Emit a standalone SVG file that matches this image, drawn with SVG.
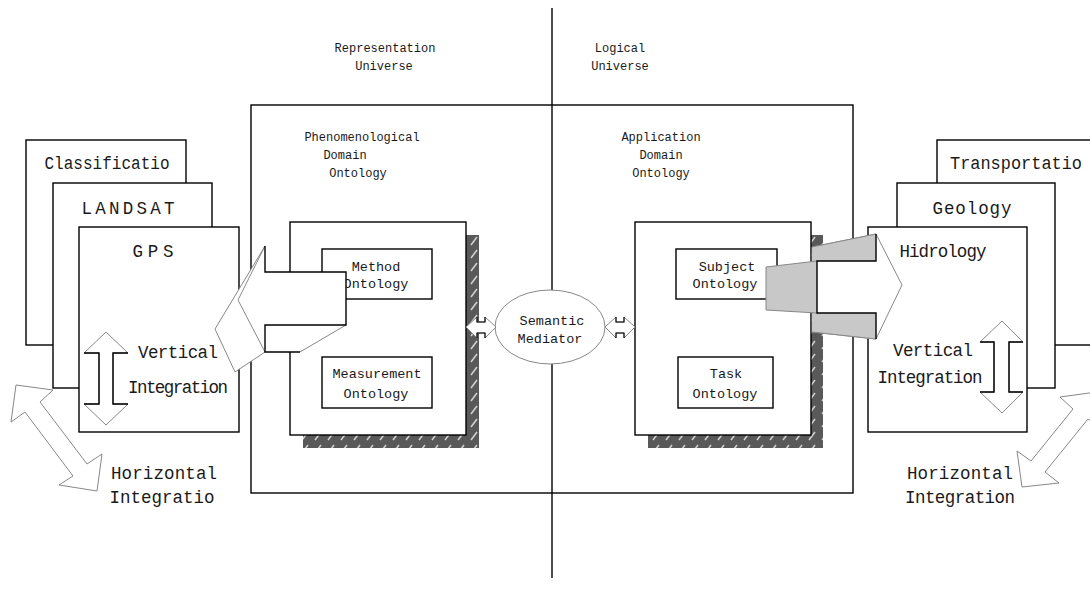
<svg xmlns="http://www.w3.org/2000/svg" width="1090" height="590" viewBox="0 0 1090 590">
<defs>
<pattern id="hatch" patternUnits="userSpaceOnUse" width="13" height="13">
<rect width="13" height="13" fill="#595959"/>
<line x1="3" y1="11" x2="9" y2="3" stroke="#d0d0d0" stroke-width="1.6"/>
</pattern>
<style>
.box{fill:#fff;stroke:#000;stroke-width:1.4}
.frame{fill:none;stroke:#000;stroke-width:1.4}
.thin{fill:#fff;stroke:#888;stroke-width:1}
.blk{fill:none;stroke:#000;stroke-width:1.4}
.blk2{fill:none;stroke:#000;stroke-width:1.1}
.gry{fill:none;stroke:#888;stroke-width:1}
.gfill{fill:#c8c8c8;stroke:none}
text{font-family:"Liberation Mono","DejaVu Sans Mono",monospace;fill:#1a1a1a;text-anchor:middle}
.big{font-size:17.5px}
.mid{font-size:13.5px}
.sm{font-size:12px}
</style>
</defs>
<rect width="1090" height="590" fill="#fff"/>

<g id="main-box">
<rect class="frame" x="251" y="105" width="602" height="388"/>
</g>
<g id="divider">
<line x1="552" y1="8" x2="552" y2="578" stroke="#000" stroke-width="1.4"/>
</g>
<g id="universe-labels">
<text class="sm" x="385" y="52">Representation</text>
<text class="sm" x="384" y="70">Universe</text>
<text class="sm" x="620" y="52">Logical</text>
<text class="sm" x="620" y="70">Universe</text>
</g>

<g id="left-stack">
<rect class="box" x="26" y="140" width="160" height="205"/>
<text class="big" x="107" y="169" textLength="125" lengthAdjust="spacingAndGlyphs">Classificatio</text>
<rect class="box" x="53" y="183" width="159" height="205"/>
<text class="big" x="128" y="214" textLength="93">LANDSAT</text>
<rect class="box" x="79" y="227" width="160" height="205"/>
<text class="big" x="153" y="257" textLength="41">GPS</text>
<polygon class="thin" points="106,332 128,353 113,353 113,404 128,404 106,425 84,404 99,404 99,353 84,353"/>
<polyline class="blk" points="84,353 99,353 99,404 84,404"/>
<polyline class="blk" points="128,353 113,353 113,404 128,404"/>
<text class="big" x="178" y="358" textLength="80">Vertical</text>
<text class="big" x="178" y="393" textLength="100">Integration</text>
</g>

<g id="phenomenological">
<text class="sm" x="362" y="141">Phenomenological</text>
<text class="sm" x="345" y="159">Domain</text>
<text class="sm" x="358" y="177">Ontology</text>
<rect x="303" y="235" width="176" height="213" fill="url(#hatch)"/>
<rect class="box" x="290" y="222" width="176" height="213"/>
</g>
<g id="method">
<rect class="box" x="322" y="249" width="110" height="50"/>
<text class="mid" x="376" y="271">Method</text>
<text class="mid" x="376" y="288">Ontology</text>
</g>
<g id="measurement">
<rect class="box" x="322" y="357" width="110" height="51"/>
<text class="mid" x="377" y="378">Measurement</text>
<text class="mid" x="376" y="398">Ontology</text>
</g>

<g id="application">
<text class="sm" x="661" y="141">Application</text>
<text class="sm" x="661" y="159">Domain</text>
<text class="sm" x="661" y="177">Ontology</text>
<rect x="648" y="235" width="175" height="213" fill="url(#hatch)"/>
<rect class="box" x="635" y="222" width="176" height="213"/>
</g>
<g id="subject">
<rect class="box" x="676" y="249" width="101" height="50"/>
<text class="mid" x="727" y="271">Subject</text>
<text class="mid" x="725" y="288">Ontology</text>
</g>
<g id="task">
<rect class="box" x="678" y="357" width="95" height="51"/>
<text class="mid" x="726" y="378">Task</text>
<text class="mid" x="725" y="398">Ontology</text>
</g>

<g id="semantic-mediator">
<ellipse cx="550" cy="327" rx="55" ry="37" fill="#fff" stroke="#888" stroke-width="1"/>
<text class="mid" x="552" y="325">Semantic</text>
<text class="mid" x="550" y="343">Mediator</text>
</g>

<g id="right-stack">
<rect class="box" x="937" y="140" width="200" height="205"/>
<text class="big" x="1016" y="169" textLength="132" lengthAdjust="spacingAndGlyphs">Transportatio</text>
<rect class="box" x="897" y="183" width="158" height="205"/>
<text class="big" x="972" y="214" textLength="79">Geology</text>
<rect class="box" x="868" y="227" width="159" height="205"/>
<text class="big" x="943" y="257" textLength="87">Hidrology</text>
<polygon class="thin" points="1002,321 1023,342 1009,342 1009,392 1023,392 1002,413 980,392 994,392 994,342 980,342"/>
<polyline class="blk" points="980,342 994,342 994,392 980,392"/>
<polyline class="blk" points="1023,342 1009,342 1009,392 1023,392"/>
<text class="big" x="933" y="356" textLength="80">Vertical</text>
<text class="big" x="930" y="383" textLength="105">Integration</text>
</g>

<g id="connectors">
<polygon points="265,246 215,329 235,372 265,352 300,352 346,325 346,272 265,272" fill="#fff"/>
<line class="gry" x1="265" y1="246" x2="215" y2="329"/>
<line class="gry" x1="265" y1="246" x2="238" y2="300"/>
<line class="gry" x1="238" y1="300" x2="265" y2="352"/>
<line class="gry" x1="215" y1="329" x2="235" y2="372"/>
<line class="gry" x1="235" y1="372" x2="265" y2="352"/>
<line class="gry" x1="300" y1="352" x2="346" y2="325"/>
<polyline class="blk" points="265,246 265,272 346,272 346,325 265,325 265,352 300,352"/>

<polygon points="812,247 876,234 902,285 876,339 812,332" fill="#fff" stroke="#888" stroke-width="1"/>
<polygon class="gfill" points="812,247 876,234 876,261 812,261"/>
<polygon class="gfill" points="812,313 876,313 876,339 812,332"/>
<polygon class="gfill" points="766,267 817,261 817,313 766,310"/>
<line class="gry" x1="812" y1="247" x2="876" y2="234"/>
<line class="gry" x1="812" y1="332" x2="876" y2="339"/>
<line class="gry" x1="766" y1="267" x2="817" y2="261"/>
<line class="gry" x1="766" y1="310" x2="817" y2="313"/>
<line class="gry" x1="766" y1="267" x2="766" y2="310"/>
<polyline class="blk" points="876,234 876,261 817,261 817,313 876,313 876,339"/>

<polygon class="thin" points="466,327 477,317 477,322 485,322 485,317 496,327 485,338 485,333 477,333 477,338"/>
<polyline class="blk2" points="477,317 477,322 485,322 485,317"/>
<polyline class="blk2" points="477,338 477,333 485,333 485,338"/>
<polygon class="thin" points="605,327 616,317 616,322 624,322 624,317 635,327 624,338 624,333 616,333 616,338"/>
<polyline class="blk2" points="616,317 616,322 624,322 624,317"/>
<polyline class="blk2" points="616,338 616,333 624,333 624,338"/>

<polygon class="thin" points="16,385 53,390 40,402 87,464 102,454 97,491 59,485 73,476 25,412 11,422"/>
<polygon class="thin" points="1097,392 1060,397 1073,409 1031,461 1017,451 1022,487 1059,483 1045,472 1088,419 1102,429"/>
</g>

<g id="horizontal-labels">
<text class="big" x="164" y="479" textLength="106">Horizontal</text>
<text class="big" x="162" y="503" textLength="105">Integratio</text>
<text class="big" x="960" y="479" textLength="106">Horizontal</text>
<text class="big" x="960" y="503" textLength="110">Integration</text>
</g>
</svg>
